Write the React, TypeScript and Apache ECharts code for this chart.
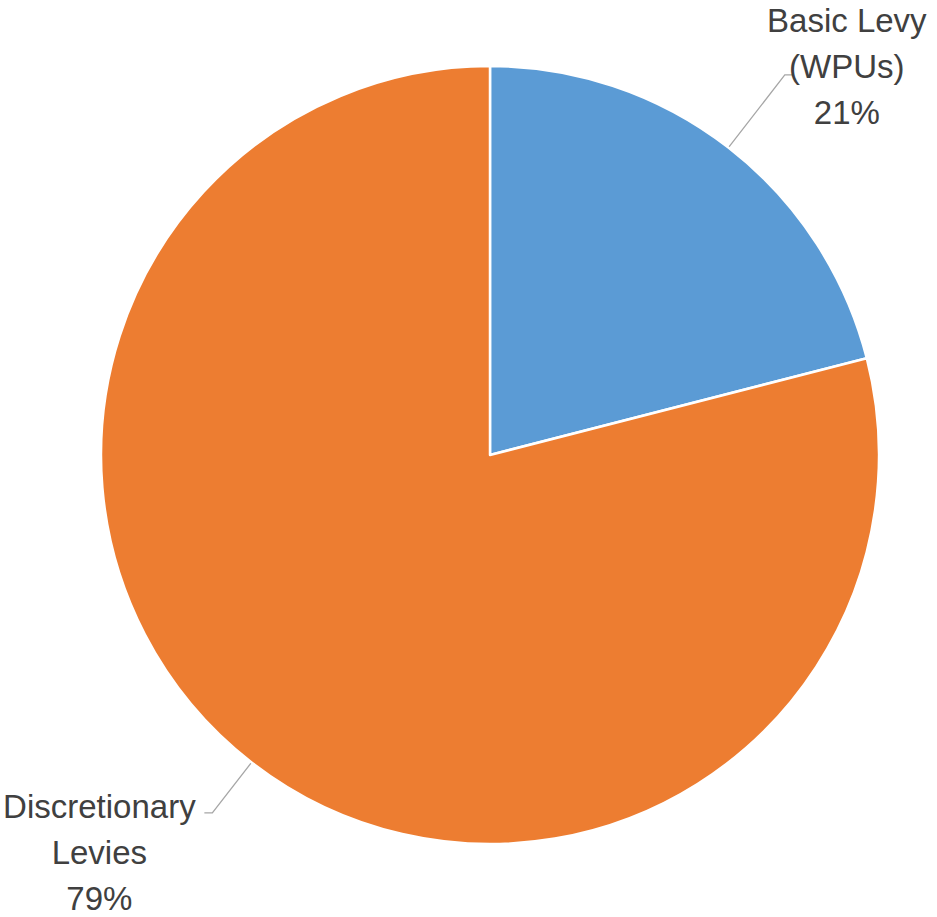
import React, { useEffect, useRef } from "react";
import * as echarts from "echarts";

const categories = ["Basic Levy\n(WPUs)", "Discretionary\nLevies"];
const values = [21, 79];
const colors = ["#5B9BD5", "#ED7D31"];

export default function App() {
  const ref = useRef<HTMLDivElement>(null);
  useEffect(() => {
    document.body.style.margin = "0";
    const chart = echarts.init(ref.current!, null, { renderer: "svg" });
    const lineLengths = [
      { length: 92, length2: 9 },
      { length: 64, length2: 8 },
    ];
    const dxOffsets = [53, -105];
    const dyOffsets = [-8, 40];
    chart.setOption({
      animation: false,
      backgroundColor: "#ffffff",
      series: [
        {
          type: "pie",
          center: [490, 455],
          radius: [0, 389],
          startAngle: 90,
          clockwise: true,
          avoidLabelOverlap: false,
          itemStyle: { borderColor: "#ffffff", borderWidth: 2.5 },
          label: {
            show: true,
            position: "outside",
            formatter: (p: any) => `${p.name}\n${Math.round(p.percent)}%`,
            color: "#404040",
            fontFamily: "Liberation Sans",
            fontSize: 33,
            lineHeight: 46,
          },
          labelLine: {
            show: true,
            smooth: false,
            lineStyle: { color: "#A6A6A6", width: 1.3 },
          },
          labelLayout: (params: any) => {
            const pts = params.labelLinePoints;
            if (!pts) return {};
            const end = pts[pts.length - 1];
            const i = params.dataIndex;
            return {
              x: end[0] + dxOffsets[i],
              y: end[1] + dyOffsets[i],
              align: "center",
              verticalAlign: "middle",
              labelLinePoints: pts,
            };
          },
          data: categories.map((name, i) => ({
            name,
            value: values[i],
            itemStyle: { color: colors[i] },
            labelLine: lineLengths[i],
          })),
        },
      ],
    });
    return () => chart.dispose();
  }, []);
  return <div ref={ref} style={{ width: 937, height: 917 }} />;
}
